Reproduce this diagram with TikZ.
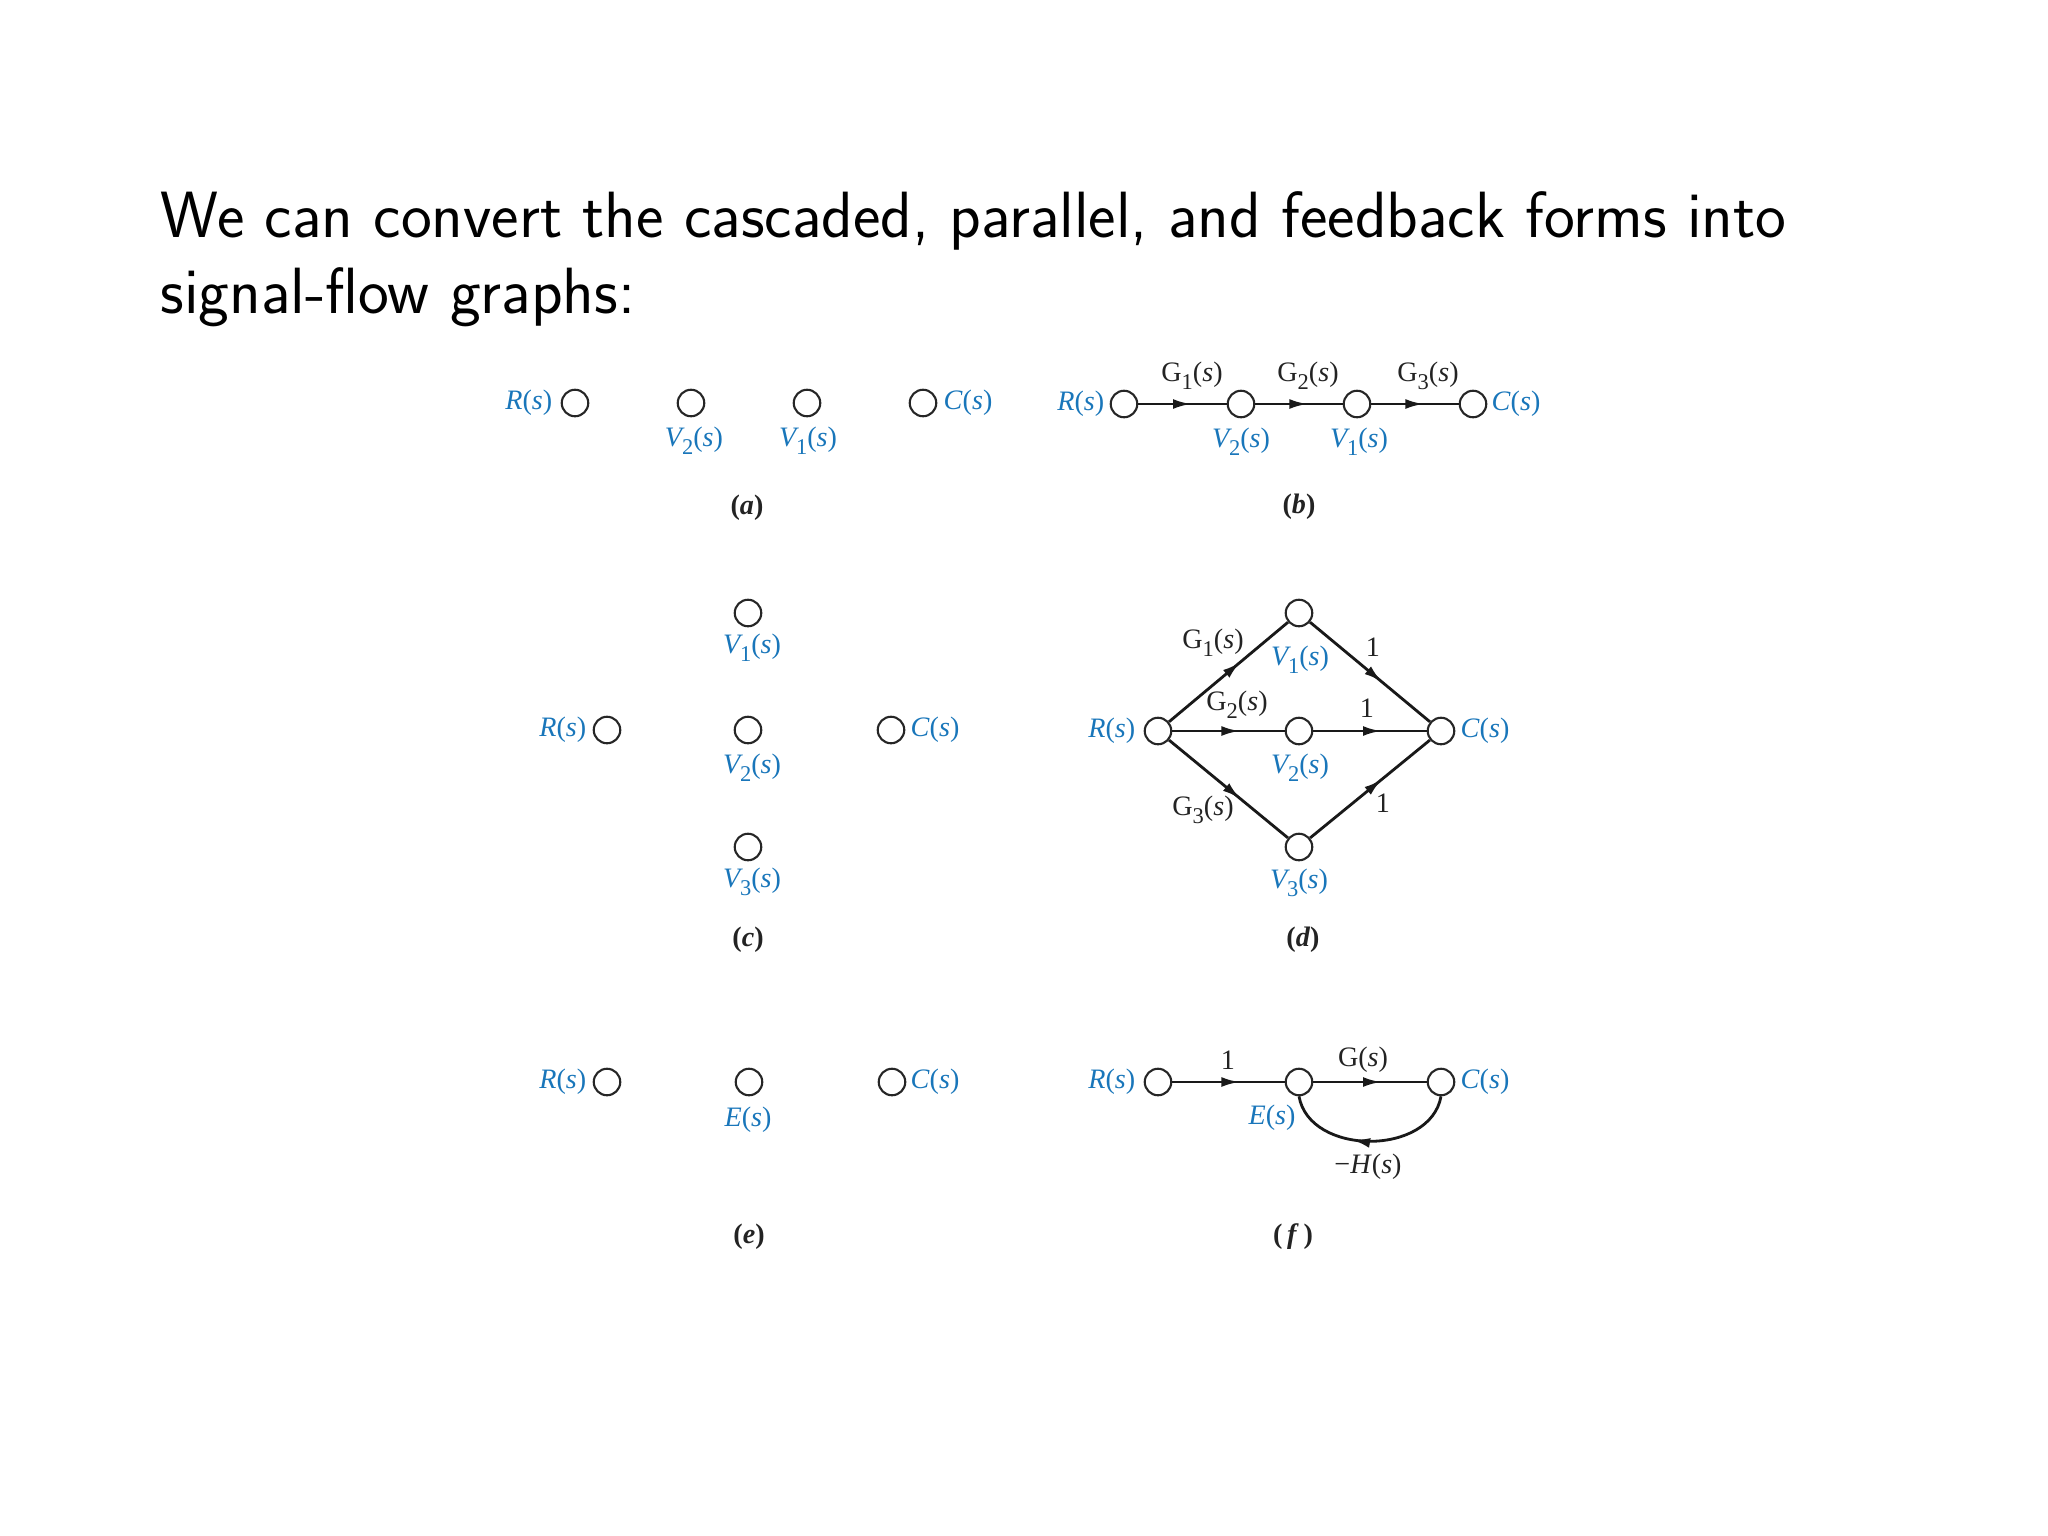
\documentclass[tikz,border=0pt]{standalone}
\usepackage{fontspec}
\newfontfamily\figfont{Liberation Serif}
\usetikzlibrary{arrows.meta,decorations.markings}
\definecolor{lblblue}{RGB}{25,118,186}
\definecolor{lblblack}{RGB}{35,35,35}
\newcommand{\ital}[1]{\textit{#1}}
\newcommand{\subd}[1]{\raisebox{-0.3em}{\fontsize{6.4}{7}\selectfont #1}}
\newcommand{\sg}[1]{\ital{#1}(\ital{s})}
\newcommand{\sgi}[2]{\ital{#1}\kern-0.1em\subd{#2}(\ital{s})}
\newcommand{\sgu}[2]{#1\subd{#2}(\ital{s})}
\tikzset{
  sn/.style={circle,draw=black!85,line width=0.6pt,minimum size=0.265cm,inner sep=0pt,fill=white},
  blab/.style={text=lblblue,font=\figfont\fontsize{8}{9.5}\selectfont,inner sep=0pt},
  klab/.style={text=lblblack,font=\figfont\fontsize{8}{9.5}\selectfont,inner sep=0pt},
  figcap/.style={text=lblblack,font=\figfont\fontsize{8}{9.5}\selectfont\bfseries,inner sep=0pt},
  flow/.style={line width=0.8pt,draw=black!90,postaction={decorate},
    decoration={markings,mark=at position 0.6 with {\arrow{Latex[length=5.2pt,width=2.8pt]}}}},
  ttl/.style={font=\sffamily\fontsize{18.6}{22}\selectfont,inner sep=0pt,anchor=base west}
}
\begin{document}
\begin{tikzpicture}[x=0.01cm,y=-0.01cm]
\useasboundingbox (0,0) rectangle (2048,1536);
% title
\node[ttl] (t1) at (160,237) {We can convert the cascaded, parallel, and feedback forms into};
\node[ttl] (t2) at (160,313) {signal-flow graphs:};

% (a)
\node[sn] (aR) at (575,403) {};
\node[sn] (aV2) at (691,403) {};
\node[sn] (aV1) at (807,403) {};
\node[sn] (aC) at (923,403) {};
\node[blab,anchor=east] (aRl) at (553,403) {\sg{R}};
\node[blab] (aV2l) at (694,441) {\sgi{V}{2}};
\node[blab] (aV1l) at (808,441) {\sgi{V}{1}};
\node[blab,anchor=west] (aCl) at (943,403) {\sg{C}};
\node[figcap] (acap) at (747,508) {(\ital{a})};

% (b)
\node[sn] (bR) at (1124,404) {};
\node[sn] (bV2) at (1241,404) {};
\node[sn] (bV1) at (1357,404) {};
\node[sn] (bC) at (1473,404) {};
\draw[flow] (bR) -- (bV2);
\draw[flow] (bV2) -- (bV1);
\draw[flow] (bV1) -- (bC);
\node[klab] (bG1) at (1192,376) {\sgu{G}{1}};
\node[klab] (bG2) at (1308,376) {\sgu{G}{2}};
\node[klab] (bG3) at (1428,376) {\sgu{G}{3}};
\node[blab,anchor=east] (bRl) at (1105,404) {\sg{R}};
\node[blab] (bV2l) at (1241,442) {\sgi{V}{2}};
\node[blab] (bV1l) at (1359,442) {\sgi{V}{1}};
\node[blab,anchor=west] (bCl) at (1491,404) {\sg{C}};
\node[figcap] (bcap) at (1299,507) {(\ital{b})};

% (c)
\node[sn] (cV1) at (748,613) {};
\node[sn] (cR) at (607,730) {};
\node[sn] (cV2) at (748,730) {};
\node[sn] (cC) at (891,730) {};
\node[sn] (cV3) at (748,847) {};
\node[blab] (cV1l) at (752,648) {\sgi{V}{1}};
\node[blab,anchor=east] (cRl) at (587,730) {\sg{R}};
\node[blab] (cV2l) at (752,768) {\sgi{V}{2}};
\node[blab,anchor=west] (cCl) at (910,730) {\sg{C}};
\node[blab] (cV3l) at (752,882) {\sgi{V}{3}};
\node[figcap] (ccap) at (748,940) {(\ital{c})};

% (d)
\node[sn] (dR) at (1158,731) {};
\node[sn] (dV1) at (1299,613) {};
\node[sn] (dV2) at (1299,731) {};
\node[sn] (dV3) at (1299,847) {};
\node[sn] (dC) at (1441,731) {};
\draw[flow] (dR) -- (dV1);
\draw[flow] (dR) -- (dV2);
\draw[flow] (dR) -- (dV3);
\draw[flow] (dV1) -- (dC);
\draw[flow] (dV2) -- (dC);
\draw[flow] (dV3) -- (dC);
\node[blab,anchor=east] (dRl) at (1136,731) {\sg{R}};
\node[blab,anchor=west] (dCl) at (1460,731) {\sg{C}};
\node[blab] (dV1l) at (1300,660) {\sgi{V}{1}};
\node[blab] (dV2l) at (1300,768) {\sgi{V}{2}};
\node[blab] (dV3l) at (1299,883) {\sgi{V}{3}};
\node[klab] (dG1) at (1213,643) {\sgu{G}{1}};
\node[klab] (dG2) at (1237,705) {\sgu{G}{2}};
\node[klab] (dG3) at (1203,810) {\sgu{G}{3}};
\node[klab] (d1a) at (1373,647) {1};
\node[klab] (d1b) at (1367,708) {1};
\node[klab] (d1c) at (1383,803) {1};
\node[figcap] (dcap) at (1303,940) {(\ital{d})};

% (e)
\node[sn] (eR) at (607,1082) {};
\node[sn] (eE) at (749,1082) {};
\node[sn] (eC) at (892,1082) {};
\node[blab,anchor=east] (eRl) at (587,1082) {\sg{R}};
\node[blab] (eEl) at (748,1120) {\sg{E}};
\node[blab,anchor=west] (eCl) at (910,1082) {\sg{C}};
\node[figcap] (ecap) at (749,1237) {(\ital{e})};

% (f)
\node[sn] (fR) at (1158,1082) {};
\node[sn] (fE) at (1299,1082) {};
\node[sn] (fC) at (1441,1082) {};
\draw[flow] (fR) -- (fE);
\draw[flow] (fE) -- (fC);
\draw[flow] (fC.south) to[out=-100,in=-80,looseness=1.1] (fE.south);
\node[blab,anchor=east] (fRl) at (1136,1082) {\sg{R}};
\node[blab,anchor=west] (fCl) at (1460,1082) {\sg{C}};
\node[blab] (fEl) at (1272,1118) {\sg{E}};
\node[klab] (f1) at (1228,1060) {1};
\node[klab] (fG) at (1363,1060) {G(\ital{s})};
\node[klab] (fH) at (1368,1167) {−\sg{H}};
\node[figcap] (fcap) at (1293,1237) {(\,\ital{f}\,)};
\end{tikzpicture}
\end{document}
